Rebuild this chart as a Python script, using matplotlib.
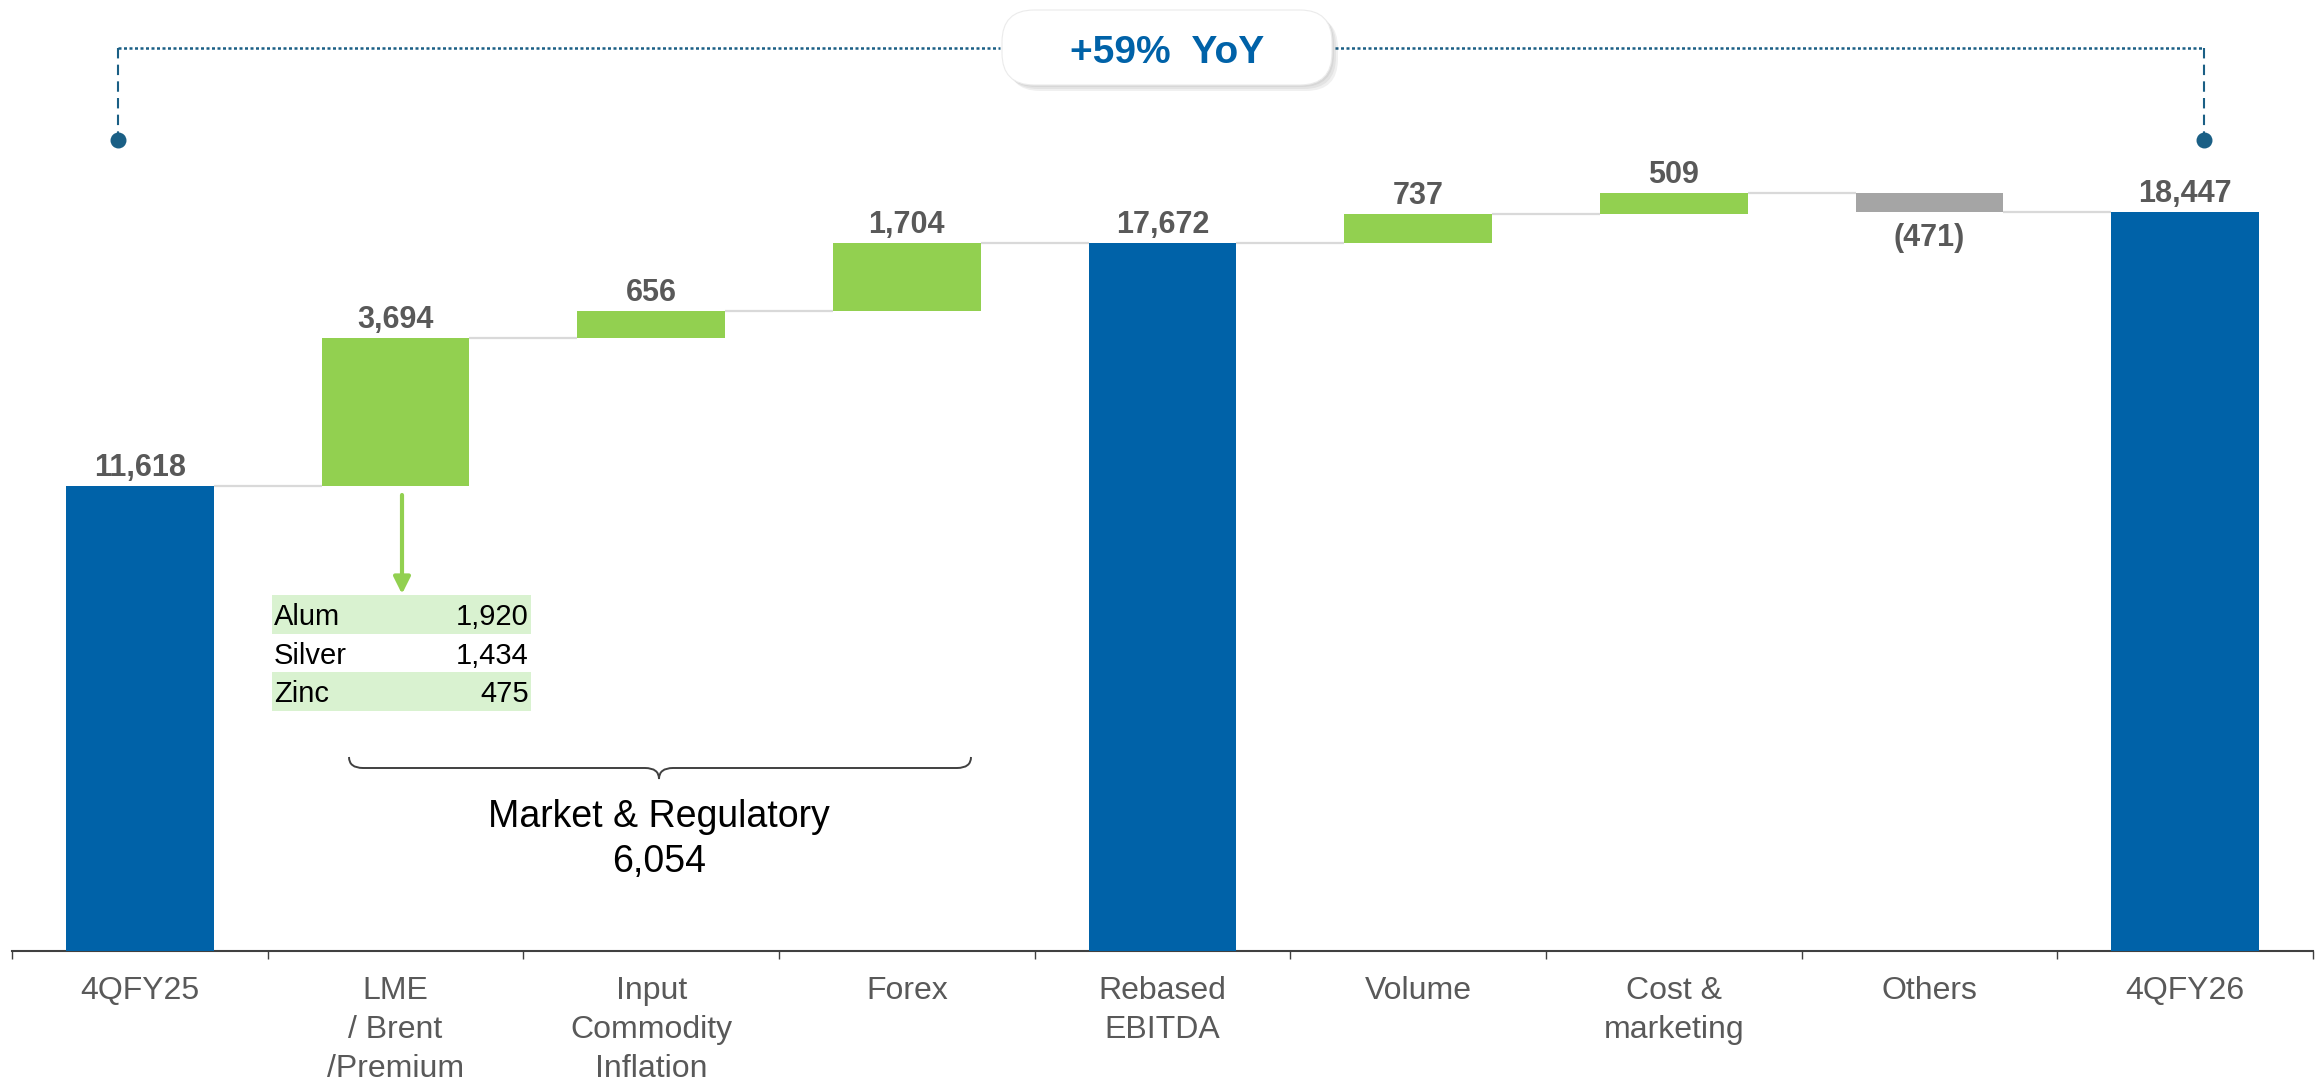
import matplotlib
matplotlib.use('Agg')
import matplotlib.pyplot as plt
from matplotlib.patches import FancyBboxPatch, Rectangle, PathPatch
from matplotlib.path import Path
import numpy as np

plt.rcParams['font.family'] = ['Liberation Sans', 'DejaVu Sans']

# ---------------- data ----------------
categories = ['4QFY25', 'LME\n/ Brent\n/Premium', 'Input\nCommodity\nInflation', 'Forex',
              'Rebased\nEBITDA', 'Volume', 'Cost &\nmarketing', 'Others', '4QFY26']
values = [11618, 3694, 656, 1704, 17672, 737, 509, -471, 18447]
kinds = ['total', 'delta', 'delta', 'delta', 'total', 'delta', 'delta', 'delta', 'total']
value_labels = ['11,618', '3,694', '656', '1,704', '17,672', '737', '509', '(471)', '18,447']

breakdown_names = ['Alum', 'Silver', 'Zinc']
breakdown_values = [1920, 1434, 475]
group_label = 'Market & Regulatory'
group_value = 6054
yoy_label = '+59%  YoY'

# ---------------- style ----------------
BLUE = '#0062A8'
GREEN = '#92D050'
GREY = '#A5A5A5'
CONN = '#D9D9D9'
LABEL = '#595959'
TABLE_BG = '#D9F2D0'
CALLOUT = '#1A5F85'

W, H = 2318, 1081
DPI = 100
fig = plt.figure(figsize=(W / DPI, H / DPI), dpi=DPI)

AX_Y = 951             # pixel row of the category axis
PX_PER_UNIT = 0.04005  # vertical pixels per value unit
ax = fig.add_axes([12 / W, (H - AX_Y) / H, 2301 / W, AX_Y / H])
ax.set_xlim(-0.5, 8.5)
ax.set_ylim(0, AX_Y / PX_PER_UNIT)

def X(px):
    return (px - 12) / 2301 * 9 - 0.5

def Y(py):
    return (AX_Y - py) / PX_PER_UNIT

bw = 0.578
running = 0
bottoms, heights, colors, levels = [], [], [], []
for v, k in zip(values, kinds):
    if k == 'total':
        b, h, c = 0, v, BLUE
        running = v
    else:
        b = running if v > 0 else running + v
        h = abs(v)
        c = GREEN if v > 0 else GREY
        running += v
    bottoms.append(b); heights.append(h); colors.append(c); levels.append(running)

xs = np.arange(len(values))
ax.bar(xs, heights, bottom=bottoms, width=bw, color=colors, zorder=3)

# connectors
for i in range(len(values) - 1):
    ax.plot([i + bw / 2, i + 1 - bw / 2], [levels[i], levels[i]], color=CONN, lw=1.6, zorder=2,
            solid_capstyle='butt')

# value labels
for i, (v, b, h, lab) in enumerate(zip(values, bottoms, heights, value_labels)):
    if v >= 0:
        ax.text(i, b + h + 10 / PX_PER_UNIT, lab, ha='center', va='baseline', fontsize=22,
                fontweight='bold', color=LABEL)
    else:
        ax.text(i, b - 34 / PX_PER_UNIT, lab, ha='center', va='baseline', fontsize=22,
                fontweight='bold', color=LABEL)

# axes styling
for s in ['top', 'right', 'left']:
    ax.spines[s].set_visible(False)
ax.spines['bottom'].set_color('#404040')
ax.spines['bottom'].set_linewidth(1.5)
ax.set_yticks([])
ax.set_xticks(xs)
ax.set_xticklabels(categories, fontsize=23, color=LABEL, linespacing=1.4)
ax.tick_params(axis='x', which='major', length=0, pad=18)
ax.set_xticks(np.arange(-0.5, 9, 1), minor=True)
ax.tick_params(axis='x', which='minor', length=6, width=1, color='#404040', direction='out')
ax.patch.set_alpha(0)

# breakdown table
tx0, tx1 = X(272), X(531)
row_h = 38.5
for r, (nm, val) in enumerate(zip(breakdown_names, breakdown_values)):
    top_px = 595 + r * row_h
    yb, yt = Y(top_px + row_h), Y(top_px)
    if r % 2 == 0:
        ax.add_patch(Rectangle((tx0, yb), tx1 - tx0, yt - yb, facecolor=TABLE_BG,
                               edgecolor='none', zorder=1))
    base = Y(top_px + 30)
    ax.text(X(274), base, nm, ha='left', va='baseline', fontsize=21, color='black', zorder=4)
    ax.text(X(529), base, f'{val:,}', ha='right', va='baseline', fontsize=21, color='black', zorder=4)

# arrow from bar down to table
ax.annotate('', xy=(X(402), Y(594)), xytext=(X(402), Y(495)),
            arrowprops=dict(arrowstyle='-|>', color=GREEN, lw=3, mutation_scale=25,
                            shrinkA=0, shrinkB=0), zorder=4)

# ---------------- overlay in pixel coords ----------------
ov = fig.add_axes([0, 0, 1, 1])
ov.set_xlim(0, W)
ov.set_ylim(H, 0)
ov.axis('off')

# brace
x0, x1, xm = 349, 971, 659
ye, yl, yt_ = 757, 768, 779
r = 14
verts = [(x0, ye), (x0, yl), (x0 + r, yl), (xm - r, yl), (xm, yl), (xm, yt_),
         (xm, yl), (xm + r, yl), (x1 - r, yl), (x1, yl), (x1, ye)]
codes = [Path.MOVETO, Path.CURVE3, Path.CURVE3, Path.LINETO, Path.CURVE3, Path.CURVE3,
         Path.CURVE3, Path.CURVE3, Path.LINETO, Path.CURVE3, Path.CURVE3]
ov.add_patch(PathPatch(Path(verts, codes), facecolor='none', edgecolor='#404040', lw=1.4))
ov.text(xm, 827, group_label, ha='center', va='baseline', fontsize=27, color='black')
ov.text(xm, 872, f'{group_value:,}', ha='center', va='baseline', fontsize=27, color='black')

# YoY callout
ov.plot([118, 1000], [48, 48], color=CALLOUT, lw=1.8, linestyle=(0, (1.2, 1.0)))
ov.plot([1335, 2204], [48, 48], color=CALLOUT, lw=1.8, linestyle=(0, (1.2, 1.0)))
ov.plot([118, 118], [48, 138], color=CALLOUT, lw=1.5, linestyle=(0, (5, 3)))
ov.plot([2204, 2204], [48, 138], color=CALLOUT, lw=1.5, linestyle=(0, (5, 3)))
ov.scatter([118, 2204], [140, 140], s=110, color=CALLOUT, zorder=5)

bx, by, bwid, bh = 1002, 10, 330, 75
for k, a in enumerate([0.05, 0.05, 0.06]):
    d = 2 + 2 * k
    ov.add_patch(FancyBboxPatch((bx + d, by + d), bwid, bh,
                                boxstyle='round,pad=0,rounding_size=32',
                                facecolor='black', edgecolor='none', alpha=a, zorder=6))
ov.add_patch(FancyBboxPatch((bx, by), bwid, bh, boxstyle='round,pad=0,rounding_size=32',
                            facecolor='white', edgecolor='#EBEBEB', lw=0.8, zorder=7))
ov.text(bx + bwid / 2, 49, yoy_label, ha='center', va='center_baseline', fontsize=28,
        fontweight='bold', color=BLUE, zorder=8)

fig.savefig('out.png', dpi=DPI)
